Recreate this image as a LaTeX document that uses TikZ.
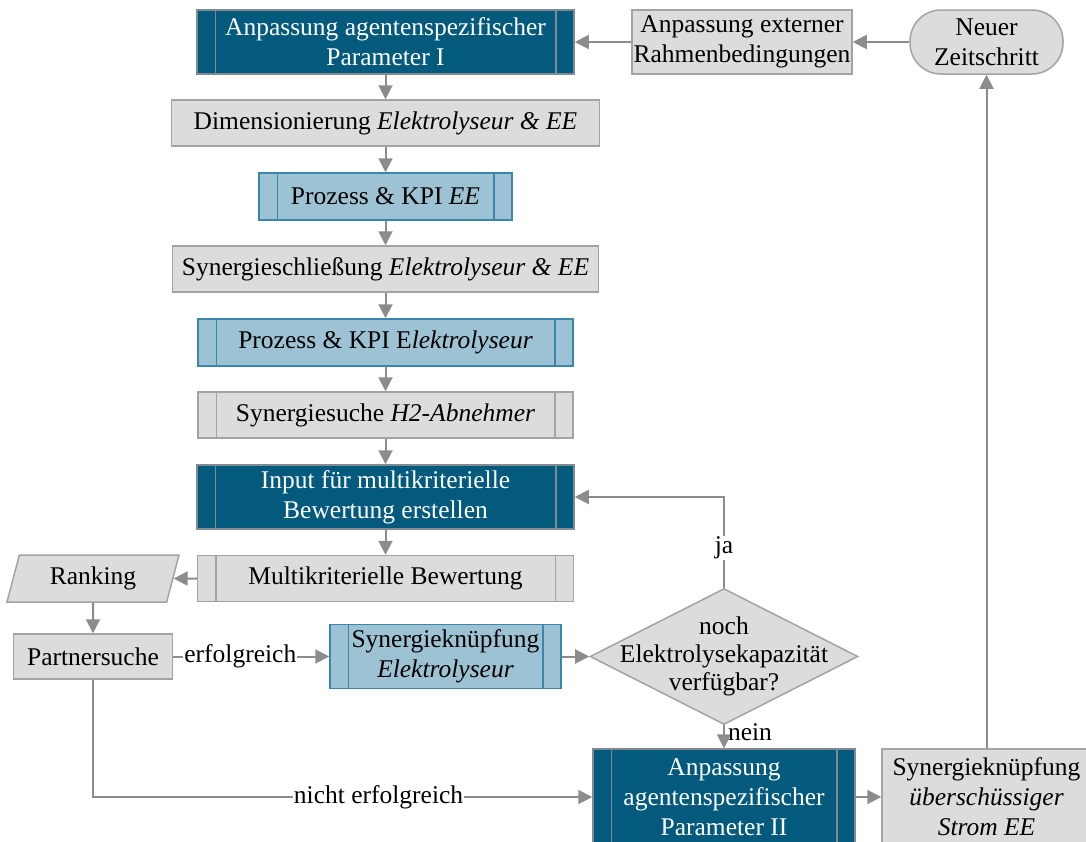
\documentclass[tikz,border=0pt]{standalone}
\usepackage{fontspec}
\setmainfont{Liberation Serif}
\usetikzlibrary{arrows.meta, shapes.geometric}

\definecolor{darkblue}{HTML}{035A7D}
\definecolor{lightblue}{HTML}{9CC2D4}
\definecolor{blueline}{HTML}{3B86AD}
\definecolor{boxgray}{HTML}{DCDCDC}
\definecolor{grayline}{HTML}{A3A3A3}
\definecolor{darkline}{HTML}{808A90}
\definecolor{arrowgray}{HTML}{8C8C8C}

\begin{document}
\begin{tikzpicture}
  [
    x=1pt, y=-1pt,
    font=\fontsize{25.5}{30}\selectfont,
    box/.style={draw=grayline,line width=1.5pt,fill=boxgray,align=center,inner sep=0pt},
    dark/.style={box,draw=darkline,fill=darkblue,text=white},
    light/.style={box,draw=blueline,fill=lightblue},
    flow/.style={draw=arrowgray,line width=2pt,-{Triangle[length=14pt,width=14pt]}},
    lbl/.style={fill=white,inner sep=1pt,text=black}
  ]
  \useasboundingbox (0,0) rectangle (1086,841);
  \clip (0,0) rectangle (1086,841);
  % top row
  \node[dark,minimum width=377,minimum height=64] (anpI) at (385.5,42) {Anpassung agentenspezifischer\\Parameter I};
  \node[box,minimum width=220,minimum height=64] (ext) at (742,42) {Anpassung externer\\Rahmenbedingungen};
  \node[box,rounded corners=31pt,minimum width=153,minimum height=64] (neu) at (986.5,42) {Neuer\\Zeitschritt};
  % main column
  \node[box,minimum width=428,minimum height=46] (dim) at (385.5,123) {Dimensionierung \textit{Elektrolyseur \& EE}};
  \node[light,minimum width=253,minimum height=47] (prozEE) at (385.5,196.5) {Prozess \& KPI \textit{EE}};
  \node[box,minimum width=426,minimum height=46] (synschl) at (385.5,269) {Synergieschließung \textit{Elektrolyseur \& EE}};
  \node[light,minimum width=375,minimum height=47] (prozEl) at (385.5,342.5) {Prozess \& KPI E\textit{lektrolyseur}};
  \node[box,minimum width=375,minimum height=46] (such) at (385.5,415) {Synergiesuche \textit{H2-Abnehmer}};
  \node[dark,minimum width=377,minimum height=64] (input) at (385.5,497) {Input für multikriterielle\\Bewertung erstellen};
  \node[box,minimum width=376,minimum height=46] (multi) at (385.5,578.5) {Multikriterielle Bewertung};
  % lower part
  \node[box,trapezium,trapezium left angle=62,trapezium right angle=118,trapezium stretches body,
        minimum width=172,minimum height=47] (rank) at (93,578.5) {Ranking};
  \node[box,minimum width=159,minimum height=45] (partner) at (93,656.5) {Partnersuche};
  \node[light,minimum width=231,minimum height=64] (synkn) at (445.5,656.5) {Synergieknüpfung\\\textit{Elektrolyseur}};
  \node[box,diamond,minimum width=268,minimum height=136] (dec) at (724,656.5) {};
  \node[align=center,font=\fontsize{25.5}{28}\selectfont] (dectext) at (dec) {noch\\Elektrolysekapazität\\verfügbar?};
  \node[dark,minimum width=262,minimum height=96] (anpII) at (724,797) {Anpassung\\agentenspezifischer\\Parameter II};
  \node[box,minimum width=209,minimum height=96] (strom) at (986.5,797) {Synergieknüpfung\\\textit{überschüssiger}\\\textit{Strom EE}};
  % bars of the sub processes
  \foreach \n/\c in {anpI/darkline,prozEE/blueline,prozEl/blueline,such/grayline,input/darkline,
                     multi/grayline,synkn/blueline,anpII/darkline} {
      \draw[\c,line width=1.5pt] ([xshift=19]\n.north west) -- ([xshift=19]\n.south west)
        ([xshift=-19]\n.north east) -- ([xshift=-19]\n.south east);
  }
  % arrows
  \draw[flow] (neu) -- (ext);
  \draw[flow] (ext) -- (anpI);
  \foreach \a/\b in {anpI/dim,dim/prozEE,prozEE/synschl,synschl/prozEl,prozEl/such,such/input,input/multi} {
      \draw[flow] (\a) -- (\b);
  }
  \draw[flow] (multi) -- (rank);
  \draw[flow] (rank) -- (partner);
  \draw[flow] (partner) -- node[lbl,pos=0.43] (erf) {erfolgreich} (synkn);
  \draw[flow] (synkn) -- (dec);
  \draw[flow] (dec.north) |- node[lbl,pos=0.22] (ja) {ja} (input.east);
  \draw[flow] (dec) -- node[right,pos=0.3,inner sep=3pt] (nein) {nein} (anpII);
  \draw[flow] (partner) |- node[lbl,pos=0.786] (nerf) {nicht erfolgreich} (anpII);
  \draw[flow] (anpII) -- (strom);
  \draw[flow] (strom) -- (neu);
\end{tikzpicture}
\end{document}
